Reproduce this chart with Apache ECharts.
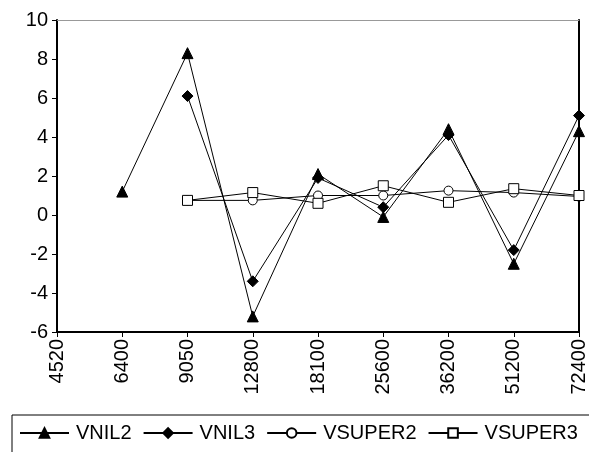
<!DOCTYPE html>
<html>
<head>
<meta charset="utf-8">
<script src="https://cdn.jsdelivr.net/npm/echarts@6/dist/echarts.min.js"></script>
<style>
  html, body { margin: 0; padding: 0; background: #fff; }
  #chart { width: 589px; height: 452px; }
</style>
</head>
<body>
<div id="chart"></div>
<script>
// Frequency categories along the x axis
const categories = ['4520', '6400', '9050', '12800', '18100', '25600', '36200', '51200', '72400'];

// Series values ('-' = no sample at that frequency)
const vnil2   = ['-', 1.2, 8.3, -5.2, 2.1, -0.1, 4.4, -2.5, 4.3];
const vnil3   = ['-', '-', 6.1, -3.4, 1.9, 0.4, 4.1, -1.8, 5.1];
const vsuper2 = ['-', '-', 0.75, 0.75, 1.0, 1.0, 1.25, 1.15, 0.95];
const vsuper3 = ['-', '-', 0.75, 1.15, 0.6, 1.5, 0.65, 1.35, 1.0];

const seriesNames = ['VNIL2', 'VNIL3', 'VSUPER2', 'VSUPER3'];

const FONT = 'Liberation Sans, Arial, sans-serif';

function lineSeries(name, data, symbol, size, filled) {
  return {
    name: name,
    type: 'line',
    data: data,
    xAxisIndex: 0,
    yAxisIndex: 0,
    symbol: symbol,
    symbolSize: size,
    showAllSymbol: true,
    connectNulls: false,
    lineStyle: { color: '#000', width: 1 },
    itemStyle: {
      color: filled ? '#000' : '#fff',
      borderColor: '#000',
      borderWidth: 1
    },
    emphasis: { disabled: true },
    animation: false
  };
}

const chart = echarts.init(document.getElementById('chart'), null, { renderer: 'canvas' });

chart.setOption({
  backgroundColor: '#fff',
  animation: false,
  grid: { left: 57, right: 9, top: 20, bottom: 120, containLabel: false },
  xAxis: [
    {
      type: 'category',
      data: categories,
      boundaryGap: false,
      position: 'bottom',
      axisLine: { onZero: false, lineStyle: { color: '#000', width: 2 } },
      axisTick: { show: true, length: 5, inside: false, lineStyle: { color: '#000', width: 1 } },
      axisLabel: { rotate: 90, margin: 7, color: '#000', fontSize: 20, fontFamily: FONT, interval: 0 },
      splitLine: { show: false }
    },
    {
      type: 'category',
      data: categories,
      boundaryGap: false,
      position: 'top',
      axisLine: { onZero: false, lineStyle: { color: '#999', width: 1 } },
      axisTick: { show: false },
      axisLabel: { show: false },
      splitLine: { show: false }
    }
  ],
  yAxis: [
    {
      type: 'value',
      min: -6,
      max: 10,
      interval: 2,
      axisLine: { show: true, onZero: false, lineStyle: { color: '#000', width: 2 } },
      axisTick: { show: true, length: 5, lineStyle: { color: '#000', width: 1 } },
      axisLabel: { color: '#000', fontSize: 20, fontFamily: FONT, margin: 9 },
      splitLine: { show: false }
    },
    {
      type: 'value',
      min: -6,
      max: 10,
      interval: 2,
      position: 'right',
      axisLine: { show: true, onZero: false, lineStyle: { color: '#000', width: 2 } },
      axisTick: { show: false },
      axisLabel: { show: false },
      splitLine: { show: false }
    }
  ],
  legend: {
    data: seriesNames,
    left: 12,
    top: 415,
    width: 640,
    orient: 'horizontal',
    padding: [8, 14, 30, 7],
    itemGap: 11,
    itemWidth: 49,
    itemHeight: 12,
    borderColor: '#000',
    borderWidth: 1,
    textStyle: { color: '#000', fontSize: 20, fontFamily: FONT, padding: [0, 0, 0, 2] },
    selectedMode: false
  },
  series: [
    lineSeries('VNIL2', vnil2, 'triangle', 11, true),
    lineSeries('VNIL3', vnil3, 'diamond', 11, true),
    lineSeries('VSUPER2', vsuper2, 'circle', 9, false),
    lineSeries('VSUPER3', vsuper3, 'rect', 10, false)
  ]
});
</script>
</body>
</html>
